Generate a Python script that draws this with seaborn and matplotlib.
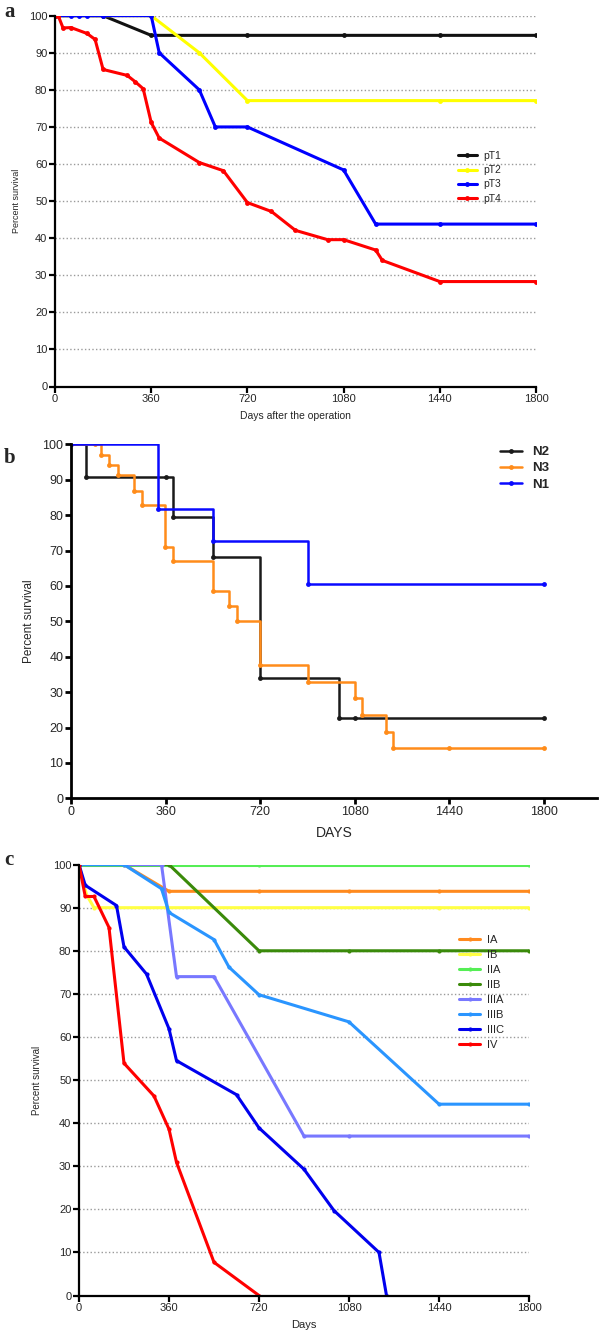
import pandas as pd
import seaborn as sns
import matplotlib.pyplot as plt

# ---- panel a: survival by pT stage
pT1_days = [0, 180, 360, 720, 1080, 1440, 1800]
pT1_pct = [100, 100, 94.7, 94.7, 94.7, 94.7, 94.7]
pT2_days = [0, 360, 540, 720, 1440, 1800]
pT2_pct = [100, 100, 90, 77.1, 77.1, 77.1]
pT3_days = [0, 60, 90, 120, 180, 360, 390, 540, 600, 720, 1080, 1200, 1440, 1800]
pT3_pct = [100, 100, 100, 100, 100, 100, 90, 80, 70, 70, 58.4, 43.8, 43.8, 43.8]
pT4_days = [0, 12, 30, 60, 120, 150, 180, 270, 300, 330, 360, 390, 540, 630, 720,
            810, 900, 1020, 1080, 1200, 1225, 1440, 1800]
pT4_pct = [100, 100, 96.7, 96.8, 95.2, 93.6, 85.5, 83.9, 82.2, 80.3, 71.2, 67.0, 60.4,
           58.2, 49.6, 47.2, 42.1, 39.6, 39.6, 36.8, 34.0, 28.3, 28.3]

# ---- panel b: survival by N stage (Kaplan-Meier steps)
N2_days = [0, 57, 360, 390, 540, 720, 1020, 1080, 1800]
N2_pct = [100, 90.9, 90.9, 79.5, 68.2, 34.1, 22.7, 22.7, 22.7]
N3_days = [0, 90, 115, 145, 177, 240, 270, 358, 387, 540, 600, 630, 720, 900, 1080,
           1106, 1200, 1225, 1440, 1800]
N3_pct = [100, 100, 97.1, 94.1, 91.2, 86.9, 82.9, 71.0, 67.0, 58.6, 54.4, 50.2, 37.6,
          32.9, 28.2, 23.5, 18.8, 14.1, 14.1, 14.1]
N1_days = [0, 330, 540, 900, 1800]
N1_pct = [100, 81.8, 72.7, 60.6, 60.6]

# ---- panel c: survival by clinical stage
IA_days = [0, 180, 360, 720, 1080, 1440, 1800]
IA_pct = [100, 100, 93.8, 93.8, 93.8, 93.8, 93.8]
IB_days = [0, 30, 60, 1440, 1800]
IB_pct = [100, 93, 90, 90, 90]
IIA_days = [0, 720, 1800]
IIA_pct = [100, 100, 100]
IIB_days = [0, 360, 720, 1080, 1440, 1800]
IIB_pct = [100, 100, 80, 80, 80, 80]
IIIA_days = [0, 330, 390, 540, 900, 1080, 1800]
IIIA_pct = [100, 100, 74, 74, 37, 37, 37]
IIIB_days = [0, 180, 330, 360, 540, 600, 720, 1080, 1440, 1800]
IIIB_pct = [100, 100, 94.4, 88.9, 82.6, 76.2, 69.8, 63.5, 44.4, 44.4]
IIIC_days = [0, 25, 150, 180, 270, 360, 390, 630, 720, 900, 1020, 1200, 1230]
IIIC_pct = [100, 95.2, 90.5, 80.9, 74.6, 61.9, 54.5, 46.6, 38.9, 29.3, 19.7, 10.0, 0]
IV_days = [0, 25, 60, 120, 180, 300, 360, 390, 540, 720]
IV_pct = [100, 92.6, 92.6, 85.4, 53.9, 46.3, 38.6, 30.9, 7.7, 0]


def long_df(series):
    rows = []
    for name, days, pct in series:
        for d, p in zip(days, pct):
            rows.append({"group": name, "day": d, "pct": p})
    return pd.DataFrame(rows)


df_a = long_df([("pT1", pT1_days, pT1_pct), ("pT2", pT2_days, pT2_pct),
                ("pT3", pT3_days, pT3_pct), ("pT4", pT4_days, pT4_pct)])
df_b = long_df([("N2", N2_days, N2_pct), ("N3", N3_days, N3_pct), ("N1", N1_days, N1_pct)])
df_c = long_df([("IA", IA_days, IA_pct), ("IB", IB_days, IB_pct), ("IIA", IIA_days, IIA_pct),
                ("IIB", IIB_days, IIB_pct), ("IIIA", IIIA_days, IIIA_pct),
                ("IIIB", IIIB_days, IIIB_pct), ("IIIC", IIIC_days, IIIC_pct),
                ("IV", IV_days, IV_pct)])

pal_a = {"pT1": "#111111", "pT2": "#ffff00", "pT3": "#0000ff", "pT4": "#ff0000"}
pal_b = {"N2": "#1a1a1a", "N3": "#ff8c1a", "N1": "#0a0aff"}
pal_c = {"IA": "#ff8a1e", "IB": "#ffff44", "IIA": "#55ee55", "IIB": "#3a8a0a",
         "IIIA": "#7878ff", "IIIB": "#2a95ff", "IIIC": "#0000ee", "IV": "#ff0000"}

sns.set_style("ticks")
plt.rcParams["font.family"] = ["Liberation Sans", "DejaVu Sans"]

W, H = 600, 1336
fig = plt.figure(figsize=(W / 100, H / 100), dpi=100)


def add_axes(left, right, top, bottom):
    return fig.add_axes([left / W, 1 - bottom / H, (right - left) / W, (bottom - top) / H])


def style_axis(ax, lw, tick_fs):
    sns.despine(ax=ax)
    for s in ("left", "bottom"):
        ax.spines[s].set_linewidth(lw)
        ax.spines[s].set_color("black")
    ax.tick_params(width=lw, length=4, labelsize=tick_fs, pad=1.5, color="black")


# ---------- panel a
ax_a = add_axes(55, 536, 15.7, 386.5)
sns.lineplot(data=df_a, x="day", y="pct", hue="group", palette=pal_a,
             hue_order=["pT1", "pT2", "pT3", "pT4"], estimator=None, sort=False,
             marker="o", markersize=3.5, markeredgewidth=0, linewidth=2.2, ax=ax_a)
ax_a.set_xlim(0, 1800)
ax_a.set_ylim(0, 100)
ax_a.set_xticks(range(0, 1801, 360))
ax_a.set_yticks(range(0, 101, 10))
ax_a.yaxis.grid(True, linestyle=":", color="#9a9a9a", linewidth=1.0)
ax_a.set_axisbelow(True)
style_axis(ax_a, 1.6, 8)
ax_a.set_xlabel("Days after the operation", fontsize=7.5, labelpad=5)
ax_a.set_ylabel("Percent survival", fontsize=6.5, labelpad=6)
ax_a.legend(frameon=False, loc="upper left", bbox_to_anchor=(458 / W, 1 - 151 / H),
            bbox_transform=fig.transFigure, fontsize=7.5, handlelength=1.8,
            handletextpad=0.6, labelspacing=0.4, borderpad=0, borderaxespad=0)

# ---------- panel b
ax_b = add_axes(71, 596.6, 444.3, 798.3)
sns.lineplot(data=df_b, x="day", y="pct", hue="group", palette=pal_b,
             hue_order=["N2", "N3", "N1"], estimator=None, sort=False,
             drawstyle="steps-post", marker="o", markersize=3.5, markeredgewidth=0,
             linewidth=1.8, ax=ax_b)
ax_b.set_xlim(0, 2000)
ax_b.set_ylim(0, 100)
ax_b.set_xticks(range(0, 1801, 360))
ax_b.set_yticks(range(0, 101, 10))
style_axis(ax_b, 2.0, 9)
ax_b.set_xlabel("DAYS", fontsize=10, labelpad=6)
ax_b.set_ylabel("Percent survival", fontsize=8.5, labelpad=5)
ax_b.legend(frameon=False, loc="upper left", bbox_to_anchor=(500 / W, 1 - 446 / H),
            bbox_transform=fig.transFigure, prop={"size": 9.5, "weight": "bold"},
            handlelength=1.7, handletextpad=0.7, labelspacing=0.3, borderpad=0,
            borderaxespad=0)

# ---------- panel c
ax_c = add_axes(79, 529, 864.6, 1295.5)
sns.lineplot(data=df_c, x="day", y="pct", hue="group", palette=pal_c,
             hue_order=["IA", "IB", "IIA", "IIB", "IIIA", "IIIB", "IIIC", "IV"],
             estimator=None, sort=False, marker="o", markersize=3, markeredgewidth=0,
             linewidth=2.2, ax=ax_c)
ax_c.set_xlim(0, 1800)
ax_c.set_ylim(0, 100)
ax_c.set_xticks(range(0, 1801, 360))
ax_c.set_yticks(range(0, 101, 10))
ax_c.yaxis.grid(True, linestyle=":", color="#9a9a9a", linewidth=1.0)
ax_c.set_axisbelow(True)
style_axis(ax_c, 1.6, 8)
ax_c.set_xlabel("Days", fontsize=8, labelpad=5)
ax_c.set_ylabel("Percent survival", fontsize=7, labelpad=8)
ax_c.legend(frameon=False, loc="upper left", bbox_to_anchor=(459 / W, 1 - 935 / H),
            bbox_transform=fig.transFigure, fontsize=8, handlelength=1.9,
            handletextpad=0.6, labelspacing=0.45, borderpad=0, borderaxespad=0)

# panel letters
for letter, y in (("a", 12), ("b", 458), ("c", 860)):
    fig.text(4 / W, 1 - y / H, letter, fontsize=15, fontweight="bold",
             family=["Liberation Serif", "DejaVu Serif"], va="center", ha="left")

fig.savefig("out.png", dpi=100)
plt.close(fig)
